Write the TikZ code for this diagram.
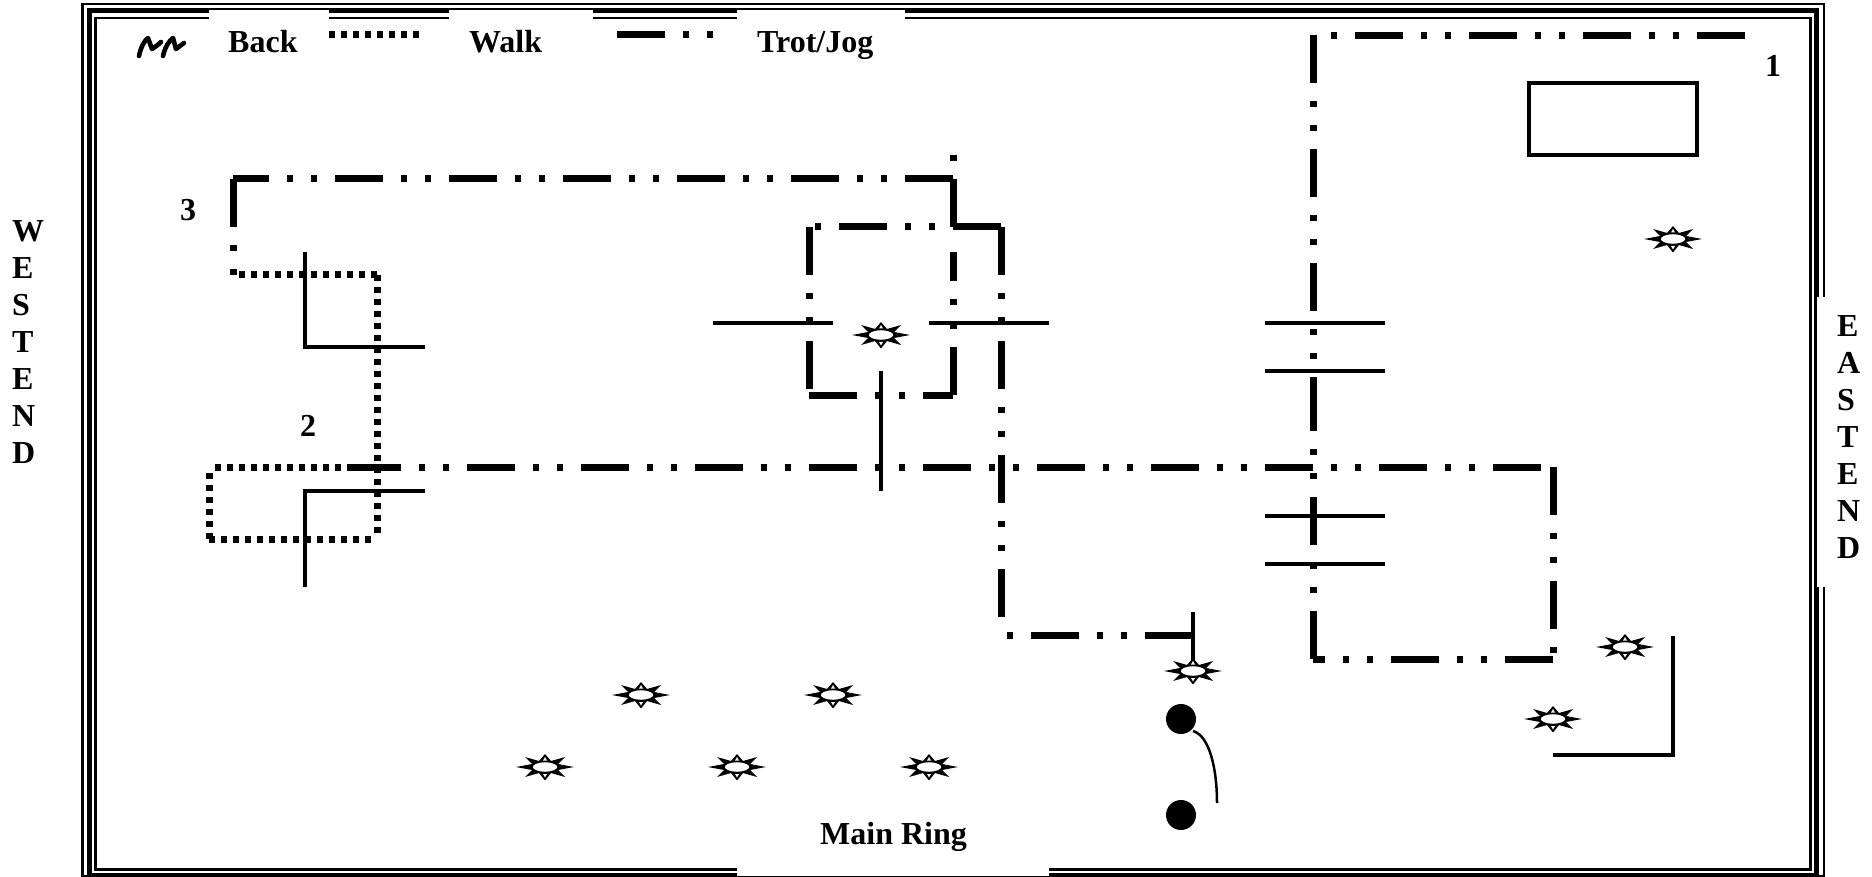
\documentclass[tikz,border=0pt]{standalone}
\usepackage{fontspec}
\setmainfont{Liberation Serif}
\tikzset{
  trot/.style={line width=7pt,line cap=butt,dash pattern=on 48pt off 18pt on 6pt off 18pt on 6pt off 18pt},
  walk/.style={line width=7pt,line cap=butt,dash pattern=on 6.4pt off 5.6pt},
  wall/.style={line width=4pt,line cap=butt,line join=miter},
  patch/.style={fill=white,draw=none},
  lbl/.style={font=\bfseries\fontsize{32}{37}\selectfont,inner sep=0pt,anchor=base west},
  vlbl/.style={font=\bfseries\fontsize{32}{37}\selectfont,inner sep=0pt,align=left,anchor=north west},
  num/.style={font=\bfseries\fontsize{32}{37}\selectfont,inner sep=0pt,anchor=base},
  jump/.style={fill=black,draw=none,circle,minimum size=30pt,inner sep=0pt},
  sunburst/.pic={
    \fill[black] (-29,0)--(-13,-3)--(-20,-10)--(-6,-6)--(0,-13)--(6,-6)--(20,-10)--(13,-3)--(29,0)--(13,3)--(20,10)--(6,6)--(0,13.5)--(-6,6)--(-20,10)--(-13,3)--cycle;
    \fill[white] (0,-10)--(2,-6.5)--(-2,-6.5)--cycle (0,10.5)--(2,7)--(-2,7)--cycle;
    \draw[black,fill=white,line width=1.2pt] (0,0) ellipse [x radius=13,y radius=5.4];
  }
}
\begin{document}
\begin{tikzpicture}[x=1pt,y=-1pt]
\useasboundingbox (0,0) rectangle (1872,877);
% triple frame
\draw[line width=2.5pt] (82.5,4) rectangle (1824,876.5);
\draw[line width=5pt] (89,10.5) rectangle (1816.5,875);
\draw[line width=2.5pt] (95.5,18) rectangle (1810.5,869.5);
% white label patches
\fill[patch] (209,10.5) rectangle (329,60);
\fill[patch] (449,10.5) rectangle (593,60);
\fill[patch] (737,10.5) rectangle (905,60);
\fill[patch] (737,858) rectangle (1049,876);
\fill[patch] (1817,297) rectangle (1872,587);
% legend
\draw[line width=4.6pt,line cap=round,line join=round] (139,56) .. controls (141,47) and (144,41) .. (148,38) -- (152,49) .. controls (155,47) and (158,45) .. (161,42);
\draw[line width=4.6pt,line cap=round,line join=round] (163,56) .. controls (165,47) and (169,41) .. (173,38) -- (176,49) .. controls (179,47) and (181,45) .. (184,43);
\node[lbl] (back) at (228,53) {Back};
\draw[walk] (329,35) -- (419,35);
\node[lbl] (walklbl) at (469,53) {Walk};
\draw[trot] (617,35) -- (713,35);
\node[lbl] (trotlbl) at (757,53) {Trot/Jog};
\node[lbl] (ring) at (820,844) {Main Ring};
\node[num] (n1) at (1773,77) {1};
\node[num] (n2) at (308,436) {2};
\node[num] (n3) at (188,221) {3};
\node[vlbl] (west) at (12,220) {W\\E\\S\\T\\E\\N\\D};
\node[vlbl] (east) at (1837,315.5) {E\\A\\S\\T\\E\\N\\D};
% walls and fences
\draw[wall] (305,252) -- (305,347) -- (425,347);
\draw[wall] (425,491) -- (305,491) -- (305,587);
\draw[wall] (713,323) -- (833,323);
\draw[wall] (929,323) -- (1049,323);
\draw[wall] (881,371) -- (881,491);
\draw[wall] (1265,323) -- (1385,323);
\draw[wall] (1265,371) -- (1385,371);
\draw[wall] (1265,516) -- (1385,516);
\draw[wall] (1265,564) -- (1385,564);
\draw[wall] (1193,612) -- (1193,662);
\draw[wall] (1673,636) -- (1673,755) -- (1553,755);
\draw[line width=4pt] (1529,83) rectangle (1697,155);
% walk path
\draw[walk] (239,275) -- (377,275);
\draw[walk] (377,275) -- (377,533);
\draw[walk] (371,539) -- (209,539);
\draw[walk] (209,539) -- (209,473);
\draw[walk] (215,467) -- (353,467);
% trot path
\draw[trot,dash phase=12pt] (233,179) -- (953,179);
\draw[trot] (233,179) -- (233,275);
\draw[trot,dash phase=90pt] (953,155) -- (953,227);
\draw[trot] (1001,227) -- (815,227);
\draw[trot] (809,227) -- (809,389);
\draw[trot] (809,395) -- (953,395);
\draw[trot] (953,395) -- (953,252);
\draw[trot] (1001,227) -- (1001,617);
\draw[trot] (1193,635) -- (1007,635);
\draw[trot] (353,467) -- (1541,467);
\draw[trot] (1553,467) -- (1553,653);
\draw[trot] (1553,659) -- (1313,659);
\draw[trot] (1313,659) -- (1313,395);
\draw[trot] (1313,35) -- (1313,395);
\draw[trot] (1745,36) -- (1331,36);
% jumps and stars
\foreach \nm/\sx/\sy in {a/881/335,b/1673/239,c/1625/647,d/1553/719,e/1193/671,f/641/695,g/833/695,h/545/767,i/737/767,j/929/767}
  \pic (star\nm) at (\sx,\sy) {sunburst};
\node[jump] (post1) at (1181,719) {};
\node[jump] (post2) at (1181,815) {};
\draw[line width=2.5pt] (1193,731) .. controls (1210,736) and (1217,770) .. (1217,803);
\end{tikzpicture}
\end{document}
